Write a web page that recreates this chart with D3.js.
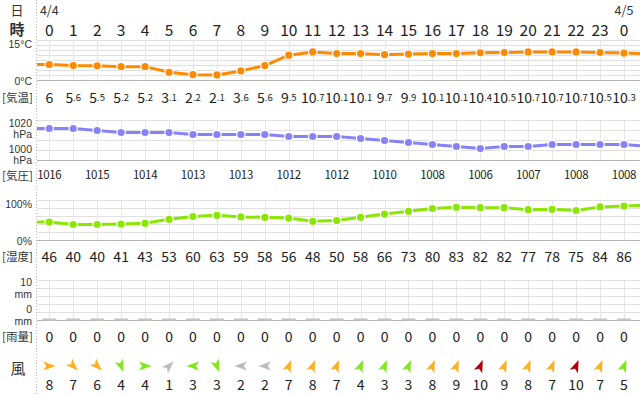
<!DOCTYPE html>
<html>
<head>
<meta charset="utf-8">
<script src="https://cdn.jsdelivr.net/npm/d3@7"></script>
<style>
  body { margin: 0; background: #fff; }
  svg { display: block; }
</style>
</head>
<body>
<div id="chart"></div>
<script>
// Hour labels (4/4 0時 .. 4/5 0時)
const hourLabels = ["0","1","2","3","4","5","6","7","8","9","10","11","12",
  "13","14","15","16","17","18","19","20","21","22","23","0"];
const dateLabels = ["4/4", "4/5"];
const dateHourIndex = [0, 24];

// 気温 (°C)
const temps = [6, 5.6, 5.5, 5.2, 5.2, 3.1, 2.2, 2.1, 3.6, 5.6, 9.5, 10.7, 10.1,
  10.1, 9.7, 9.9, 10.1, 10.1, 10.4, 10.5, 10.7, 10.7, 10.7, 10.5, 10.3];
const tempEnds = [6.0, 10.1];          // values just outside the window

// 気圧 (hPa)
const pressures = [1016, 1016, 1015, 1014, 1014, 1014, 1013, 1013, 1013, 1013, 1012, 1012, 1012,
  1011, 1010, 1009, 1008, 1007, 1006, 1007, 1007, 1008, 1008, 1008, 1008];
const pressureEnds = [1016, 1007];

// 湿度 (%)
const humidity = [46, 40, 40, 41, 43, 53, 60, 63, 59, 58, 56, 48, 50,
  58, 66, 73, 80, 83, 82, 82, 77, 78, 75, 84, 86];
const humidityEnds = [47, 88];

// 雨量 (mm)
const rain = [0,0,0,0,0,0,0,0,0,0,0,0,0,0,0,0,0,0,0,0,0,0,0,0,0];

// 風速 (m/s) and 風向 (direction the wind comes from)
const windSpeed = [8, 7, 6, 4, 4, 1, 3, 3, 2, 2, 7, 8, 7, 4, 3, 3, 8, 9, 10, 9, 8, 7, 10, 7, 5];
const windDir = ["西","北西","北西","北北西","西","南西","東","北北西","東","東",
  "南南西","南南西","南南西","南南西","南南西","南南西","南南西","南南西",
  "南南西","南南西","南南西","南南西","南南西","南南西","南南西"];
const compass = ["北","北北東","北東","東北東","東","東南東","南東","南南東",
  "南","南南西","南西","西南西","西","西北西","北西","北北西"];

const W = 640, H = 395;
const left = 37;
const FONT = "'Noto Sans CJK JP', 'Noto Sans', sans-serif";
const AXIS_FONT = "'Liberation Sans', Arial, sans-serif";
const textColor = "#333";

const svg = d3.select("#chart").append("svg")
  .attr("width", W).attr("height", H)
  .style("font-family", FONT);

svg.append("defs").append("clipPath").attr("id", "plotclip")
  .append("rect").attr("x", left).attr("y", 0).attr("width", W - left).attr("height", H);

const x = d3.scaleLinear().domain([0, 24]).range([49.3, 624]);

// left dotted border
svg.append("line")
  .attr("x1", left - 0.5).attr("x2", left - 0.5).attr("y1", 0).attr("y2", H)
  .attr("stroke", "#b8b8b8").attr("stroke-dasharray", "1,2");

// header
svg.append("text").attr("x", 17).attr("y", 9).attr("text-anchor", "middle")
  .attr("dominant-baseline", "central").attr("font-size", 13).attr("fill", textColor).text("日");
svg.append("text").attr("x", 17).attr("y", 28).attr("text-anchor", "middle")
  .attr("dominant-baseline", "central").attr("font-size", 15).attr("font-weight", 700)
  .attr("fill", textColor).text("時");

svg.selectAll(".date").data(dateLabels).join("text")
  .attr("class", "date")
  .attr("x", (d, i) => x(dateHourIndex[i]))
  .attr("y", 9)
  .attr("text-anchor", "middle").attr("dominant-baseline", "central")
  .attr("font-size", 12.5).attr("fill", textColor).text(d => d);

svg.selectAll(".hour").data(hourLabels).join("text")
  .attr("class", "hour")
  .attr("x", (d, i) => x(i)).attr("y", 28.5)
  .attr("text-anchor", "middle").attr("dominant-baseline", "central")
  .attr("font-size", 15.5).attr("fill", "#222").text(d => d);

// panel builder: grid, axis labels (a label may have two lines)
function panel(y, step, labels) {
  const g = svg.append("g");
  const [d0, d1] = y.domain();
  const levels = d3.range(d0, d1 + step / 2, step);
  const [yBottom, yTop] = y.range();

  g.selectAll(".v").data(hourLabels).join("line")
    .attr("x1", (d, i) => Math.round(x(i)) + 0.5).attr("x2", (d, i) => Math.round(x(i)) + 0.5)
    .attr("y1", yTop).attr("y2", yBottom)
    .attr("stroke", "#e6e6e6");

  g.selectAll(".h").data(levels).join("line")
    .attr("x1", left).attr("x2", W)
    .attr("y1", d => y(d)).attr("y2", d => y(d))
    .attr("stroke", d => d === d0 ? "#b4b4b4" : "#e0e0e0");

  labels.forEach(l => {
    const t = g.append("text").attr("y", l.y)
      .attr("text-anchor", "end").attr("dominant-baseline", "central")
      .attr("font-family", AXIS_FONT)
      .attr("font-size", 10.5).attr("fill", textColor);
    l.t.forEach((line, k) => {
      t.append("tspan").attr("x", 32).attr("dy", k === 0 ? 0 : 11.7).text(line);
    });
  });
  return g;
}

function rowLabel(t, y) {
  svg.append("text").attr("x", 2).attr("y", y)
    .attr("dominant-baseline", "central").attr("font-size", 11.5)
    .attr("fill", textColor).text(t);
}

function series(y, values, ends, color) {
  const pts = [[-1, ends[0]], ...values.map((v, i) => [i, v]), [25, ends[1]]];
  const g = svg.append("g").attr("clip-path", "url(#plotclip)");
  g.append("path")
    .attr("d", d3.line().x(d => x(d[0])).y(d => y(d[1]))(pts))
    .attr("fill", "none").attr("stroke", color).attr("stroke-width", 3)
    .attr("stroke-linejoin", "round");
  g.selectAll("circle").data(values).join("circle")
    .attr("cx", (d, i) => x(i)).attr("cy", d => y(d))
    .attr("r", 4.2).attr("fill", color)
    .attr("stroke", "#fff").attr("stroke-width", 1.2);
}

function valueRow(values, y, size, fmt) {
  svg.append("g").selectAll("text").data(values).join("text")
    .attr("x", (d, i) => x(i)).attr("y", y)
    .attr("text-anchor", "middle").attr("dominant-baseline", "central")
    .attr("font-size", size).attr("fill", "#222")
    .text(fmt || (d => d));
}

// ---- 気温
const yT = d3.scaleLinear().domain([0, 15]).range([80.5, 40.5]);
panel(yT, 15 / 8, [{ t: ["15°C"], y: 44 }, { t: ["0°C"], y: 81 }]);
series(yT, temps, tempEnds, "#ff8a00");
rowLabel("[気温]", 97);
svg.append("g").selectAll("text").data(temps).join("text")
  .attr("x", (d, i) => x(i)).attr("y", 97)
  .attr("text-anchor", "middle").attr("dominant-baseline", "central")
  .attr("fill", "#222")
  .each(function (d) {
    const el = d3.select(this);
    const ip = Math.trunc(d), dp = Math.round((d - ip) * 10);
    el.append("tspan").attr("font-size", 14).text(ip);
    if (dp !== 0) el.append("tspan").attr("font-size", 9.5).text("." + dp);
  });

// ---- 気圧
const yP = d3.scaleLinear().domain([1000, 1020]).range([160.5, 120.5]);
panel(yP, 5, [{ t: ["1020", "hPa"], y: 122.5 }, { t: ["1000", "hPa"], y: 148.5 }]);
series(yP, pressures, pressureEnds, "#8782f8");
rowLabel("[気圧]", 175);
svg.append("g").selectAll("text").data(pressures).join("text")
  .attr("x", (d, i) => x(i)).attr("y", 173.5)
  .attr("text-anchor", "middle").attr("dominant-baseline", "central")
  .attr("font-size", 11.5).attr("letter-spacing", -0.3).attr("fill", "#222")
  .text((d, i) => i % 2 === 0 ? d : "");

// ---- 湿度
const yHm = d3.scaleLinear().domain([0, 100]).range([240.5, 200.5]);
panel(yHm, 20, [{ t: ["100%"], y: 204 }, { t: ["0%"], y: 241 }]);
series(yHm, humidity, humidityEnds, "#8be600");
rowLabel("[湿度]", 256);
valueRow(humidity, 256, 14);

// ---- 雨量
const yR = d3.scaleLinear().domain([0, 10]).range([320.5, 280.5]);
panel(yR, 2, [{ t: ["10", "mm"], y: 282 }, { t: ["0", "mm"], y: 309 }]);
svg.append("g").selectAll("rect").data(rain).join("rect")
  .attr("x", (d, i) => x(i) - 7).attr("width", 14)
  .attr("y", d => Math.min(yR(d), 319) - 0.5)
  .attr("height", d => Math.max(2, yR(0) - yR(d)))
  .attr("fill", "#c4c4c4");
rowLabel("[雨量]", 336);
valueRow(rain, 336, 14);

// ---- 風
svg.append("text").attr("x", 18).attr("y", 367).attr("text-anchor", "middle")
  .attr("dominant-baseline", "central").attr("font-size", 15).attr("fill", textColor).text("風");

const windColor = s => s >= 10 ? "#b0000e" : s >= 6 ? "#ffb020" : s >= 3 ? "#80e81a" : "#bdbdbd";
svg.append("g").selectAll("path").data(windSpeed).join("path")
  .attr("d", "M6.5,0 L-6,-4.5 L-3,0 L-6,4.5 Z")
  .attr("transform", (d, i) => {
    const from = compass.indexOf(windDir[i]) * 22.5;
    return `translate(${x(i)},366) rotate(${from + 90})`;
  })
  .attr("fill", d => windColor(d));
valueRow(windSpeed, 383.5, 14);
</script>
</body>
</html>
